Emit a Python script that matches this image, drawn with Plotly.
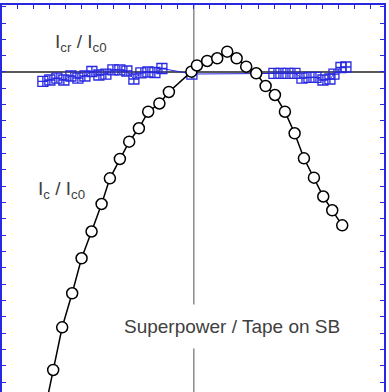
import plotly.graph_objects as go

# Ic / Ic0 (circles)
ic_x = [-0.4667, -0.4377, -0.4097, -0.3786, -0.3493, -0.3182, -0.2870, -0.2612, -0.2301,
        -0.2011, -0.1709, -0.1420, -0.1071, -0.0775, -0.0075, 0.0097, 0.0417, 0.0729,
        0.1040, 0.1333, 0.1631, 0.1943, 0.2235, 0.2525, 0.2836, 0.3138, 0.3428, 0.3739,
        0.4029, 0.4309, 0.4620]
ic_y = [0.5797, 0.6348, 0.6871, 0.7288, 0.7717, 0.8045, 0.8382, 0.8697, 0.8934,
        0.9146, 0.9310, 0.9513, 0.9614, 0.9755, 1.0004, 1.0080, 1.0135, 1.0168,
        1.0249, 1.0168, 1.0065, 0.9984, 0.9828, 0.9718, 0.9513, 0.9249, 0.8942, 0.8705,
        0.8474, 0.8305, 0.8121]

# Icr / Ic0 (squares)
icr_x = [-0.4698, -0.4480, -0.4262, -0.4044, -0.3826, -0.3608, -0.3390, -0.3172, -0.2954,
         -0.2736, -0.2518, -0.2301, -0.2083, -0.1865, -0.1647, -0.1429, -0.1211, -0.0993,
         -0.0059,
         0.2494, 0.2712, 0.2930, 0.3148, 0.3366, 0.3584, 0.3802, 0.4019, 0.4237, 0.4362,
         0.4580, 0.4735]
icr_y = [0.9884, 0.9902, 0.9926, 0.9902, 0.9951, 0.9926, 0.9951, 1.0006, 0.9963,
         0.9975, 1.0025, 1.0025, 1.0012, 0.9914, 0.9988, 1.0000, 0.9994, 1.0043,
         0.9975,
         0.9982, 0.9982, 0.9982, 0.9982, 0.9926, 0.9933, 0.9933, 0.9902, 0.9914, 0.9975,
         1.0055, 1.0061]

BLUE = "#2828e0"

fig = go.Figure()
fig.add_trace(go.Scatter(
    x=icr_x, y=icr_y, mode="lines+markers",
    line=dict(color=BLUE, width=1),
    marker=dict(symbol="square-cross-open", size=10, color=BLUE, line=dict(width=1.3, color=BLUE)),
    showlegend=False))
fig.add_trace(go.Scatter(
    x=ic_x, y=ic_y, mode="lines+markers",
    line=dict(color="black", width=1.5),
    marker=dict(symbol="circle", size=11, color="white", line=dict(width=1.5, color="black")),
    showlegend=False))

fig.add_shape(type="line", xref="x", yref="paper", x0=0, x1=0, y0=0, y1=1,
              line=dict(color="#8a8a8a", width=1.5), layer="below")
fig.add_shape(type="line", xref="paper", yref="y", x0=0, x1=1, y0=1.0, y1=1.0,
              line=dict(color="#222222", width=1.3), layer="below")

TXT = dict(family="Liberation Sans, Arial", size=19, color="#404040")
fig.add_annotation(x=-0.4390, y=1.0355, xref="x", yref="y", xanchor="left", yanchor="middle",
                   text="I<sub>cr</sub> / I<sub>c0</sub>", showarrow=False, font=TXT)
fig.add_annotation(x=-0.4920, y=0.8554, xref="x", yref="y", xanchor="left", yanchor="middle",
                   text="I<sub>c</sub> / I<sub>c0</sub>", showarrow=False, font=TXT)
fig.add_annotation(x=0.1186, y=0.6875, xref="x", yref="y", xanchor="center", yanchor="middle",
                   text="Superpower / Tape on SB", showarrow=False, font=TXT,
                   bgcolor="white", borderpad=11)

fig.update_xaxes(range=[-0.597, 0.592], side="top", ticks="inside", ticklen=4, tickwidth=1,
                 tickcolor=BLUE, tick0=0, dtick=0.05, showticklabels=False,
                 showline=True, linecolor=BLUE, linewidth=2, showgrid=False, zeroline=False)
fig.update_yaxes(range=[0.6078, 1.0821], ticks="inside", ticklen=4, tickwidth=1,
                 tickcolor=BLUE, tick0=1.0, dtick=0.02, showticklabels=False,
                 showline=True, mirror="ticks", linecolor=BLUE, linewidth=2,
                 showgrid=False, zeroline=False)

fig.update_layout(width=389, height=392, margin=dict(l=2, r=5, t=5, b=0),
                  paper_bgcolor="white", plot_bgcolor="white")
fig.write_html("out.html")
